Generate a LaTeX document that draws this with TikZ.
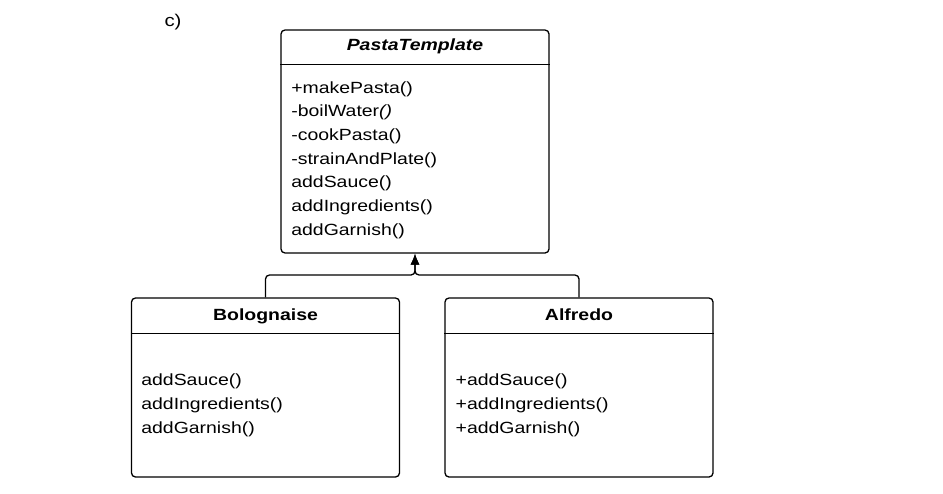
\documentclass[tikz,border=0pt]{standalone}
\usepackage{fontspec}
\setmainfont{Liberation Sans}[FakeStretch=1.2]
\usetikzlibrary{arrows.meta, positioning}
\newcommand{\umlfont}{\fontsize{16.2}{23.7}\selectfont}
\tikzstyle{classbox} = [draw, rectangle, rounded corners=4pt,
    minimum width=268pt, inner sep=0pt]
\tikzstyle{classname} = [font=\umlfont\bfseries, anchor=base, inner sep=0pt]
\tikzstyle{member} = [anchor=base west, inner sep=0pt]
\tikzstyle{inherit} = [-{Latex[length=11pt,width=9pt]}, rounded corners=4pt]

\begin{document}
\begin{tikzpicture}[x=1pt, y=-1pt, line width=1.3pt, font=\umlfont]
    \useasboundingbox (0,0) rectangle (943,493);
    \node [anchor=base, inner sep=0pt, font=\fontsize{17}{21}\selectfont] (part) at (173,26.5) {c)};

    % abstract class
    \node [classbox, minimum height=223pt] (pasta) at (415,141.5) {};
    \node [classname, below=20.7pt of pasta.north, anchor=base] (pastaname) {\itshape PastaTemplate};
    \draw ([yshift=-35pt]pasta.north west) -- ([yshift=-35pt]pasta.north east);
    \foreach \op [count=\i] in {+makePasta(), -boilWater\textit{()}, -cookPasta(),
        -strainAndPlate(), addSauce(), addIngredients(), addGarnish()}
        \node [member] (pastaop\i) at (290.7,{93+(\i-1)*23.7}) {\op};

    % subclasses
    \node [classbox, minimum height=179pt] (bolo) at (265.5,387.5) {};
    \node [classname, below=22.7pt of bolo.north, anchor=base] (boloname) {Bolognaise};
    \draw ([yshift=-36pt]bolo.north west) -- ([yshift=-36pt]bolo.north east);
    \foreach \op [count=\i] in {addSauce(), addIngredients(), addGarnish()}
        \node [member] (boloop\i) at (140.7,{385+(\i-1)*24}) {\op};

    \node [classbox, minimum height=179pt] (alfredo) at (579,387.5) {};
    \node [classname, below=22.7pt of alfredo.north, anchor=base] (alfredoname) {Alfredo};
    \draw ([yshift=-36pt]alfredo.north west) -- ([yshift=-36pt]alfredo.north east);
    \foreach \op [count=\i] in {+addSauce(), +addIngredients(), +addGarnish()}
        \node [member] (alfredoop\i) at (455,{385+(\i-1)*24}) {\op};

    % generalisation
    \coordinate (join) at (415,275);
    \draw [inherit] (bolo.north) |- (join) -- (pasta.south);
    \draw [inherit] (alfredo.north) |- (join) -- (pasta.south);
\end{tikzpicture}
\end{document}
